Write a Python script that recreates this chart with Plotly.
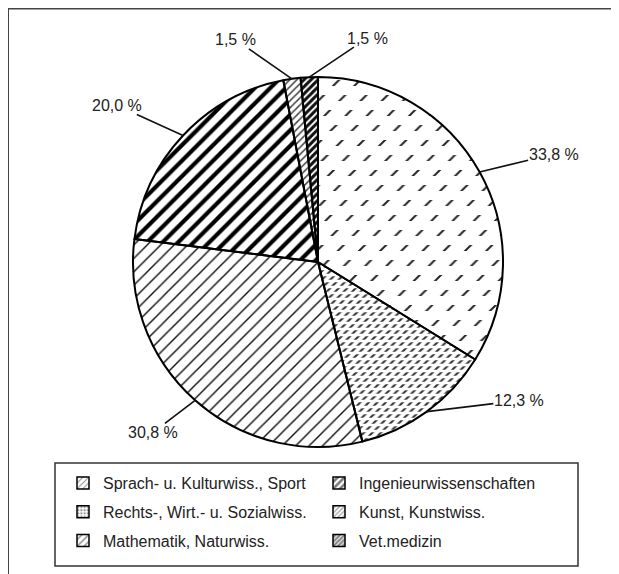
import math
import plotly.graph_objects as go

# ---------------- data ----------------
categories = [
    "Sprach- u. Kulturwiss., Sport",
    "Rechts-, Wirt.- u. Sozialwiss.",
    "Mathematik, Naturwiss.",
    "Ingenieurwissenschaften",
    "Kunst, Kunstwiss.",
    "Vet.medizin",
]
values = [33.8, 12.3, 30.8, 20.0, 1.5, 1.5]
value_labels = ["33,8 %", "12,3 %", "30,8 %", "20,0 %", "1,5 %", "1,5 %"]

# ---------------- geometry / style ----------------
OFF = 8                      # page body margin of the html page
W, H = 619 - OFF, 574 - OFF  # figure size so that the page is filled


def fx(x):
    return (x - OFF) / W


def fy(y):
    return 1 - (y - OFF) / H


CX, CY, R = 318, 262, 185          # pie centre and radius (page px)
dom_x = [fx(CX - R), fx(CX + R)]
dom_y = [fy(CY + R), fy(CY - R)]

FONT = "Liberation Sans, Arial, sans-serif"
TXT = "#222222"

pat_shape = ["/", "/", "/", "/", "/", "/"]
pat_size = [15, 6, 9.5, 11, 5, 5]
pat_solid = [0.13, 0.36, 0.15, 0.38, 0.3, 0.6]
pat_fg = ["#222222", "#333333", "#111111", "#000000", "#444444", "#111111"]

# white horizontal bands that break the diagonal lines into dashes
cut_shape = ["-", "-", "", "", "", ""]
cut_size = [15, 6, 10, 10, 10, 10]
cut_solid = [0.6, 0.42, 0.1, 0.1, 0.1, 0.1]

# label offsets (px) from slice edge to text centre
lab_dx = [74, 92, -42, -66, -56, 58]
lab_dy = [-18, -11, 32, -30, -39, -39]

fig = go.Figure()

common = dict(
    labels=categories, values=values, sort=False, direction="clockwise",
    rotation=0, textinfo="none", hoverinfo="skip", showlegend=False,
    domain=dict(x=dom_x, y=dom_y),
)

# layer 1: pattern fills
fig.add_trace(go.Pie(
    **common,
    marker=dict(
        colors=["white"] * 6,
        line=dict(width=0),
        pattern=dict(shape=pat_shape, size=pat_size, solidity=pat_solid,
                     fgcolor=pat_fg, bgcolor=["white"] * 6, fillmode="replace"),
    ),
))
# layer 2: white cuts -> dashed hatching
fig.add_trace(go.Pie(
    **common,
    marker=dict(
        colors=["rgba(0,0,0,0)"] * 6,
        line=dict(width=0),
        pattern=dict(shape=cut_shape, size=cut_size, solidity=cut_solid,
                     fgcolor=["white"] * 6, bgcolor=["rgba(0,0,0,0)"] * 6,
                     fillmode="replace"),
    ),
))
# layer 3: outlines
fig.add_trace(go.Pie(
    **common,
    marker=dict(colors=["rgba(0,0,0,0)"] * 6, line=dict(color="black", width=2)),
))

# legend entries (patterned swatches)
leg_shape = ["/", ".", "/", "/", "/", "/"]
leg_size = [5, 4, 6, 6, 4, 4]
leg_solid = [0.25, 0.45, 0.3, 0.55, 0.4, 0.7]
for i, cat in enumerate(categories):
    fig.add_trace(go.Bar(
        x=[None], y=[None], name=cat, legendgroup=cat, showlegend=True,
        legend="legend" if i < 3 else "legend2", hoverinfo="skip",
        marker=dict(color="white", line=dict(color="black", width=1.5),
                    pattern=dict(shape=leg_shape[i], size=leg_size[i],
                                 solidity=leg_solid[i], fgcolor=pat_fg[i],
                                 bgcolor="white")),
    ))

# labels with leader lines
annotations = []
total = sum(values)
cum = 0.0
for i, v in enumerate(values):
    mid = (cum + v / 2) / total * 2 * math.pi
    cum += v
    px = CX + R * math.sin(mid)
    py = CY - R * math.cos(mid)
    annotations.append(dict(
        x=fx(px), y=fy(py), xref="paper", yref="paper",
        text=value_labels[i], showarrow=True, arrowhead=0, arrowwidth=1.6,
        arrowcolor="#111111", ax=lab_dx[i], ay=lab_dy[i],
        standoff=0, borderpad=0, font=dict(family=FONT, size=16, color=TXT),
    ))

shapes = [
    # outer frame (top and left edges)
    dict(type="line", xref="paper", yref="paper", x0=fx(8), x1=1.02,
         y0=fy(8.5), y1=fy(8.5), line=dict(color="#444444", width=2)),
    dict(type="line", xref="paper", yref="paper", x0=fx(8), x1=fx(8),
         y0=-0.02, y1=fy(8.5), line=dict(color="#444444", width=2)),
    # legend box
    dict(type="rect", xref="paper", yref="paper", x0=fx(55), x1=fx(578),
         y0=fy(566), y1=fy(463), line=dict(color="#333333", width=1.5)),
]

leg_common = dict(
    font=dict(family=FONT, size=16, color=TXT), bgcolor="rgba(0,0,0,0)",
    borderwidth=0, xanchor="left", yanchor="top", tracegroupgap=5,
    itemclick=False, itemdoubleclick=False,
)
fig.update_layout(
    width=W, height=H, margin=dict(l=0, r=0, t=0, b=0, pad=0),
    paper_bgcolor="white", plot_bgcolor="white",
    xaxis=dict(visible=False), yaxis=dict(visible=False),
    legend=dict(x=fx(63), y=fy(466), **leg_common),
    legend2=dict(x=fx(319), y=fy(466), **leg_common),
    annotations=annotations, shapes=shapes,
)

fig.write_html("out.html")
